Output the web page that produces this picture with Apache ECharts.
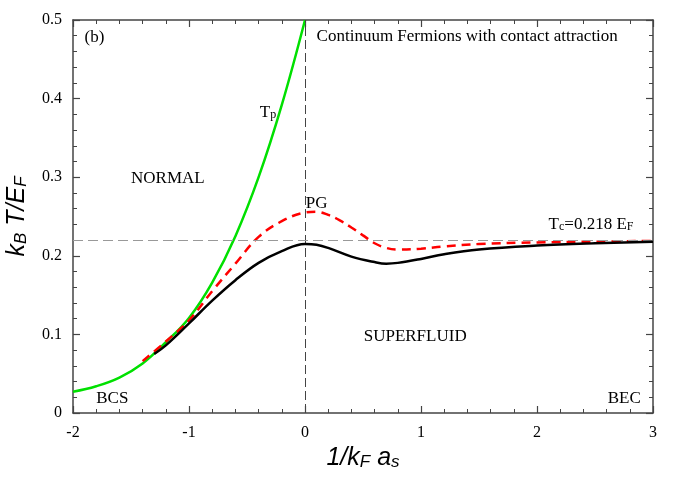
<!DOCTYPE html>
<html>
<head>
<meta charset="utf-8">
<script src="https://cdn.jsdelivr.net/npm/echarts@6/dist/echarts.min.js"></script>
<style>
  html, body { margin: 0; padding: 0; background: #fff; }
  #chart { width: 685px; height: 480px; }
</style>
</head>
<body>
<div id="chart"></div>
<script>
// T_p (green) pairing temperature
const tpX = [-2, -1.8, -1.6, -1.4, -1.2, -1.0, -0.8, -0.6, -0.4, -0.2, 0];
const tpY = [0.027, 0.034, 0.045, 0.063, 0.090, 0.121, 0.166, 0.225, 0.300, 0.392, 0.5];

// T_c (black) superfluid transition
const tcX = [-1.3, -1.2, -1.0, -0.8, -0.6, -0.4, -0.2, 0.0, 0.1, 0.2, 0.4, 0.6, 0.7, 0.8, 1.0, 1.2, 1.5, 2.0, 2.5, 3.0];
const tcY = [0.075, 0.086, 0.114, 0.143, 0.169, 0.191, 0.206, 0.215, 0.214, 0.210, 0.199, 0.192, 0.190, 0.191, 0.196, 0.202, 0.208, 0.213, 0.216, 0.218];

// PG (red dashed) pseudogap crossover
const pgX = [-1.4, -1.2, -1.0, -0.8, -0.6, -0.4, -0.2, 0.0, 0.1, 0.2, 0.3, 0.4, 0.5, 0.6, 0.7, 0.8, 1.0, 1.2, 1.5, 2.0, 2.5, 3.0];
const pgY = [0.066, 0.091, 0.118, 0.155, 0.190, 0.224, 0.244, 0.255, 0.256, 0.252, 0.245, 0.236, 0.226, 0.216, 0.210, 0.208, 0.209, 0.212, 0.215, 0.217, 0.218, 0.219];

const tcLimit = 0.218;

// annotations: [x, y, text]
const notes = [
  [-1.90, 0.478, '(b)'],
  [0.10, 0.479, 'Continuum Fermions with contact attraction'],
  [-1.50, 0.298, 'NORMAL'],
  [-0.39, 0.384, '{t|T}{s|p}'],
  [0.006, 0.267, 'PG'],
  [2.10, 0.242, '{t|T}{s|c}{t|=0.218 E}{s|F}'],
  [0.506, 0.097, 'SUPERFLUID'],
  [-1.80, 0.019, 'BCS'],
  [2.61, 0.019, 'BEC']
];

const pairs = (xs, ys) => xs.map((x, i) => [x, ys[i]]);

const serif = 'Liberation Serif';
const axisColor = '#444';

function mkAxis(opts) {
  return Object.assign({
    type: 'value',
    axisLine: { show: true, onZero: false, lineStyle: { color: axisColor, width: 1.5 } },
    axisTick: { show: true, inside: true, length: 7, lineStyle: { color: axisColor, width: 1.2 } },
    minorTick: { show: true, splitNumber: 5, length: 4, lineStyle: { color: axisColor, width: 1 } },
    splitLine: { show: false },
    axisLabel: { show: false }
  }, opts);
}

const labelStyle = { color: '#000', fontFamily: serif, fontSize: 16 };
const nameRich = {
  i: { fontFamily: 'Liberation Sans', fontStyle: 'italic', fontSize: 25, lineHeight: 32, verticalAlign: 'bottom', color: '#000' },
  s: { fontFamily: 'Liberation Sans', fontStyle: 'italic', fontSize: 17, lineHeight: 17, verticalAlign: 'bottom', color: '#000' }
};

const chart = echarts.init(document.getElementById('chart'));
chart.setOption({
  animation: false,
  backgroundColor: '#fff',
  grid: { left: 73, right: 32, top: 20, bottom: 67, outerBoundsMode: 'none', containLabel: false },
  xAxis: [
    mkAxis({
      min: -2, max: 3, interval: 1, position: 'bottom',
      axisLabel: Object.assign({ show: true, margin: 12 }, labelStyle),
      name: '{i|1/k}{s|F}{i| a}{s|s}',
      nameLocation: 'middle', nameGap: 25,
      nameTextStyle: { rich: nameRich }
    }),
    mkAxis({ min: -2, max: 3, interval: 1, position: 'top' })
  ],
  yAxis: [
    mkAxis({
      min: 0, max: 0.5, interval: 0.1, position: 'left',
      axisLabel: Object.assign({ show: true, margin: 11 }, labelStyle),
      name: '{i|k}{s|B}{i| T/E}{s|F}',
      nameLocation: 'middle', nameGap: 43, nameRotate: 90,
      nameTextStyle: { rich: nameRich }
    }),
    mkAxis({ min: 0, max: 0.5, interval: 0.1, position: 'right' })
  ],
  series: [
    {
      type: 'line', data: pairs(tpX, tpY), smooth: 0.4, showSymbol: false, silent: true,
      lineStyle: { color: '#00e000', width: 2.5 },
      markLine: {
        silent: true, symbol: 'none', label: { show: false },
        data: [
          { xAxis: 0, lineStyle: { color: '#444', width: 1, type: [9, 4] } },
          { yAxis: tcLimit, lineStyle: { color: '#999', width: 1.2, type: [10, 5] } }
        ]
      },
      z: 3
    },
    {
      type: 'line', data: pairs(pgX, pgY), smooth: 0.4, showSymbol: false, silent: true,
      lineStyle: { color: '#ff0000', width: 2.5, type: [9, 6] }, z: 4
    },
    {
      type: 'line', data: pairs(tcX, tcY), smooth: 0.4, showSymbol: false, silent: true,
      lineStyle: { color: '#000', width: 2.5 }, z: 5
    },
    {
      type: 'scatter', data: notes, symbolSize: 0, silent: true, z: 6,
      itemStyle: { opacity: 1 },
      label: {
        show: true, position: 'right', distance: 0,
        formatter: p => p.data[2],
        color: '#000', fontFamily: serif, fontSize: 17,
        rich: {
          t: { fontFamily: serif, fontSize: 17, lineHeight: 20, verticalAlign: 'bottom', color: '#000' },
          s: { fontFamily: serif, fontSize: 12, lineHeight: 12, verticalAlign: 'bottom', color: '#000' }
        }
      }
    }
  ]
});
</script>
</body>
</html>
